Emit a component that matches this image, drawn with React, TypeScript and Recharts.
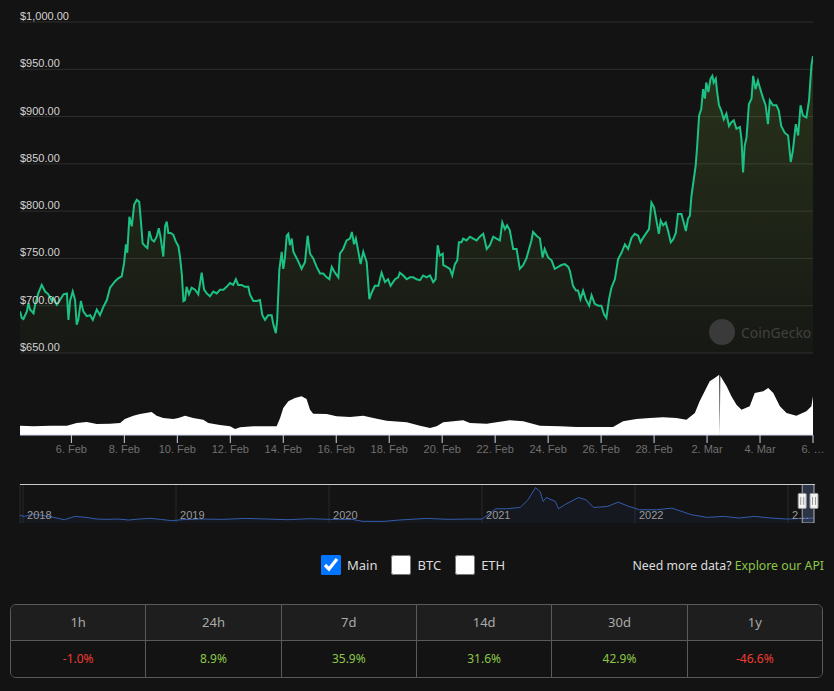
import React from "react";
import {
  ComposedChart,
  AreaChart,
  Area,
  XAxis,
  YAxis,
  CartesianGrid,
  ReferenceArea,
  ReferenceDot,
} from "recharts";

// price, USD — x is day of the month counted from 1 Feb (29 = 1 Mar)
const priceDays = [
  4.06, 4.13, 4.19, 4.32, 4.38, 4.44, 4.57, 4.63, 4.75, 4.88,
  5.01, 5.13, 5.26, 5.32, 5.45, 5.57, 5.7, 5.83, 5.89, 5.95,
  6.05, 6.14, 6.2, 6.26, 6.36, 6.45, 6.58, 6.71, 6.81, 6.96,
  7.08, 7.21, 7.34, 7.46, 7.65, 7.77, 7.9, 7.99, 8.06, 8.11,
  8.19, 8.28, 8.37, 8.47, 8.56, 8.62, 8.69, 8.78, 8.87, 8.94,
  9.03, 9.12, 9.22, 9.3, 9.37, 9.47, 9.54, 9.6, 9.66, 9.75,
  9.85, 9.94, 10.04, 10.1, 10.17, 10.23, 10.29, 10.35, 10.44, 10.54,
  10.67, 10.79, 10.92, 11.01, 11.11, 11.23, 11.36, 11.49, 11.61, 11.74,
  11.86, 11.99, 12.11, 12.21, 12.3, 12.43, 12.55, 12.68, 12.74, 12.87,
  13.0, 13.12, 13.21, 13.31, 13.43, 13.56, 13.62, 13.72, 13.77, 13.85,
  13.94, 14.0, 14.06, 14.13, 14.19, 14.25, 14.32, 14.38, 14.51, 14.63,
  14.69, 14.82, 14.92, 15.01, 15.13, 15.26, 15.39, 15.51, 15.64, 15.74,
  15.83, 15.95, 16.08, 16.14, 16.26, 16.39, 16.52, 16.59, 16.67, 16.74,
  16.83, 16.92, 17.02, 17.15, 17.25, 17.34, 17.46, 17.59, 17.71, 17.84,
  17.96, 18.05, 18.22, 18.34, 18.4, 18.53, 18.66, 18.78, 18.91, 19.03,
  19.16, 19.28, 19.41, 19.54, 19.66, 19.75, 19.83, 19.91, 20.02, 20.04,
  20.17, 20.29, 20.38, 20.48, 20.57, 20.63, 20.73, 20.79, 20.92, 21.05,
  21.17, 21.3, 21.42, 21.55, 21.61, 21.68, 21.8, 21.93, 22.05, 22.18,
  22.27, 22.37, 22.45, 22.55, 22.68, 22.81, 22.93, 23.06, 23.18, 23.28,
  23.37, 23.43, 23.56, 23.69, 23.79, 23.87, 24.0, 24.13, 24.25, 24.38,
  24.5, 24.63, 24.76, 24.82,
  24.94, 25.05, 25.13, 25.22, 25.32, 25.42, 25.55, 25.64, 25.76, 25.89,
  26.01, 26.11, 26.2, 26.3, 26.39, 26.52, 26.64, 26.77, 26.9, 27.02,
  27.15, 27.27, 27.4, 27.49, 27.59, 27.71, 27.81, 27.9, 28.0, 28.09,
  28.18, 28.25, 28.34, 28.44, 28.53, 28.63, 28.72, 28.82, 28.9, 29.03,
  29.12, 29.2, 29.28, 29.35, 29.41, 29.5, 29.57, 29.62, 29.7, 29.78,
  29.85, 29.92, 29.97, 30.05, 30.13, 30.2, 30.25, 30.33, 30.38, 30.45,
  30.54, 30.63, 30.73, 30.83, 30.92, 31.01, 31.11, 31.24, 31.3, 31.36,
  31.42, 31.49, 31.58, 31.68, 31.74, 31.83, 31.92, 32.01, 32.11, 32.21,
  32.3, 32.37, 32.49, 32.62, 32.71, 32.8, 32.93, 33.06, 33.16, 33.24,
  33.35, 33.44, 33.53, 33.62, 33.75, 33.85, 33.94, 34.0,
];
const prices = [
  694, 687, 686, 694, 703, 696, 692, 701, 713, 722,
  715, 712, 705, 708, 701, 706, 712, 713, 685, 705,
  715, 706, 680, 685, 705, 694, 689, 690, 685, 696,
  690, 699, 706, 719, 726, 729, 731, 745, 765, 756,
  794, 784, 807, 812, 810, 791, 766, 763, 761, 779,
  770, 768, 773, 782, 772, 752, 784, 789, 777, 777,
  775, 768, 763, 752, 733, 705, 706, 720, 712, 719,
  717, 712, 735, 717, 713, 710, 715, 713, 717, 717,
  720, 724, 722, 728, 722, 722, 720, 720, 712, 705,
  705, 706, 690, 685, 690, 690, 681, 671, 685, 738,
  757, 739, 750, 774, 776, 764, 771, 757, 750, 743,
  739, 746, 774, 755, 750, 741, 734, 734, 730, 728,
  741, 735, 730, 755, 760, 769, 771, 778, 765, 771,
  758, 744, 757, 746, 707, 714, 721, 721, 735, 725,
  728, 721, 728, 730, 735, 732, 728, 730, 730, 728,
  727, 732, 730, 732, 725, 728, 764, 753, 755, 743,
  741, 739, 732, 744, 748, 767, 767, 771, 769, 773,
  771, 769, 773, 776, 769, 760, 764, 773, 771, 769,
  788, 781, 785, 780, 760, 760, 739, 743, 750, 760,
  769, 778, 774, 771, 751, 760, 751, 748, 739, 741,
  743, 744, 741, 737,
  721, 716, 716, 707, 716, 707, 700, 711, 702, 700,
  700, 691, 687, 707, 719, 728, 749, 756, 765, 760,
  772, 776, 774, 767, 772, 777, 781, 809, 804, 790,
  776, 790, 785, 788, 779, 767, 770, 777, 797, 797,
  788, 779, 792, 795, 816, 834, 848, 866, 901, 908,
  929, 919, 936, 926, 940, 943, 936, 940, 926, 912,
  906, 897, 903, 890, 894, 896, 887, 889, 876, 841,
  869, 878, 913, 919, 943, 929, 938, 929, 920, 912,
  892, 917, 912, 912, 906, 890, 883, 880, 852, 864,
  892, 880, 912, 901, 899, 917, 954, 964,
];

// trading volume, $M
const volumeDays = [
  4.06, 4.57, 5.2, 5.83, 6.2, 6.58, 6.96, 7.46, 7.84, 8.02,
  8.34, 8.59, 9.03, 9.22, 9.47, 9.85, 10.04, 10.29, 10.6, 10.98,
  11.17, 11.61, 11.99, 12.18, 12.37, 12.87, 13.37, 13.75, 13.88, 14.0,
  14.19, 14.44, 14.69, 14.88, 15.01, 15.13, 15.64, 16.01, 16.52, 17.02,
  17.4, 17.9, 18.66, 19.16, 19.54, 19.79, 20.04, 20.42, 20.79, 21.05,
  21.68, 22.05, 22.55, 23.06, 23.69, 24.44, 25.07, 25.7, 26.45, 26.83,
  27.33, 27.84, 28.34, 28.84, 29.22, 29.54, 29.72, 29.91, 30.1, 30.29,
  30.46, 30.48, 30.5, 30.74, 30.92, 31.11, 31.3, 31.61, 31.8, 32.12,
  32.31, 32.5, 32.75, 33.0, 33.37, 33.75, 33.94, 34.0,
];
const volumes = [
  93, 87, 93, 93, 120, 130, 110, 113, 120, 160,
  193, 210, 230, 193, 170, 160, 170, 193, 170, 153,
  120, 100, 87, 60, 77, 87, 87, 87, 170, 270,
  337, 370, 387, 360, 253, 213, 210, 187, 180, 193,
  170, 143, 127, 93, 70, 87, 127, 137, 147, 120,
  113, 127, 147, 137, 93, 87, 80, 80, 80, 137,
  160, 170, 177, 170, 153, 220, 337, 437, 537, 570,
  603, 0, 593, 487, 387, 303, 253, 287, 420, 437,
  470, 420, 287, 220, 193, 237, 287, 387,
];

const priceTicks = [650, 700, 750, 800, 850, 900, 950, 1000];
const dateTicks = [6, 8, 10, 12, 14, 16, 18, 20, 22, 24, 26, 28, 30, 32, 34];

// navigator: full history, x in years
const navYears = [
  2017.98, 2018.01, 2018.06, 2018.13, 2018.2, 2018.27, 2018.34, 2018.41, 2018.48, 2018.55,
  2018.62, 2018.69, 2018.76, 2018.83, 2018.9, 2018.97, 2019.04, 2019.17, 2019.31, 2019.45,
  2019.59, 2019.73, 2019.87, 2020.01, 2020.15, 2020.22, 2020.36, 2020.46, 2020.64, 2020.78,
  2020.92, 2021.0, 2021.04, 2021.09, 2021.16, 2021.25, 2021.3, 2021.35, 2021.38, 2021.4,
  2021.42, 2021.48, 2021.5, 2021.54, 2021.63, 2021.68, 2021.73, 2021.82, 2021.89, 2021.96,
  2022.03, 2022.14, 2022.24, 2022.37, 2022.47, 2022.58, 2022.68, 2022.78, 2022.89, 2022.99,
  2023.17,
];
const navPrices = [
  1380, 1200, 1620, 1380, 1020, 600, 1200, 1020, 720, 660,
  720, 540, 720, 840, 660, 420, 600, 720, 660, 840,
  720, 600, 780, 660, 660, 300, 300, 540, 840, 660,
  720, 720, 1500, 2580, 2580, 2820, 4200, 6420, 5700, 3900,
  4620, 3900, 2580, 3300, 4620, 4200, 2820, 3000, 3780, 3000,
  2400, 2400, 2700, 1500, 1020, 1200, 900, 1200, 900, 720,
  900,
];
const yearTicks = [2018, 2019, 2020, 2021, 2022, 2023];
const selection = [2023.093, 2023.17];

const toggles = ["Main", "BTC", "ETH"];
const periods = ["1h", "24h", "7d", "14d", "30d", "1y"];
const changes = [-1.0, 8.9, 35.9, 31.6, 42.9, -46.6];

const BG = "#131313";
const FONT = '"Liberation Sans", Arial, sans-serif';
const UI_FONT = '"Noto Sans", "Open Sans", sans-serif';

const rows = [
  ...priceDays.map((t, i) => ({ t, price: prices[i] })),
  ...volumeDays.map((t, i) => ({ t, vol: volumes[i] })),
].sort((a, b) => a.t - b.t);

const navRows = navYears.map((t, i) => ({ t, v: navPrices[i] }));

function fmtDate(d: number) {
  if (d <= 28) return `${d}. Feb`;
  if (d >= 34) return `${d - 28}. …`;
  return `${d - 28}. Mar`;
}

const PriceTick = ({ y, payload }: any) => (
  <text x={20} y={y - 2} fill="#d4d4d4" fontSize={11} fontFamily={FONT}>
    {"$" + payload.value.toLocaleString("en-US", { minimumFractionDigits: 2 })}
  </text>
);

// year labels sit inside the navigator, just right of the grid line
const YearTick = ({ x, payload }: any) => (
  <text x={x + 4} y={35} fill="#9a9a9a" fontSize={11} fontFamily={FONT}>
    {payload.value === 2023 ? "2…" : payload.value}
  </text>
);

const Handle = ({ cx, cy }: any) => (
  <g>
    <rect x={cx - 4} y={cy - 7.5} width={8} height={15} rx={1} fill="#f2f2f2" stroke="#999" />
    <line x1={cx - 1.5} x2={cx - 1.5} y1={cy - 4} y2={cy + 4} stroke="#999" />
    <line x1={cx + 1.5} x2={cx + 1.5} y1={cy - 4} y2={cy + 4} stroke="#999" />
  </g>
);

export default function App() {
  return (
    <div
      style={{
        position: "absolute",
        left: 0,
        top: 0,
        width: 834,
        height: 691,
        background: BG,
        overflow: "hidden",
      }}
    >
      <div style={{ position: "absolute", left: 0, top: 0 }}>
        <ComposedChart
          width={834}
          height={470}
          data={rows}
          margin={{ top: 22, right: 21, bottom: 0, left: 20 }}
        >
          <defs>
            <linearGradient id="priceFill" x1="0" y1="0" x2="0" y2="1">
              <stop offset="0%" stopColor="#8dc63f" stopOpacity={0.18} />
              <stop offset="100%" stopColor="#8dc63f" stopOpacity={0.03} />
            </linearGradient>
          </defs>
          <CartesianGrid yAxisId="price" vertical={false} stroke="#2e2e2e" />
          <XAxis
            dataKey="t"
            type="number"
            domain={[4.06, 34]}
            ticks={dateTicks}
            interval={0}
            tickFormatter={fmtDate}
            height={35}
            tickSize={8}
            stroke="#ccd6eb"
            tick={{ fill: "#707070", fontSize: 11, fontFamily: FONT }}
            allowDataOverflow
          />
          <YAxis
            yAxisId="price"
            domain={[563.3, 1000]}
            ticks={priceTicks}
            interval={0}
            mirror
            width={60}
            axisLine={false}
            tickLine={false}
            tick={<PriceTick />}
            allowDataOverflow
          />
          <YAxis yAxisId="vol" orientation="right" domain={[0, 4130]} hide />
          <Area
            yAxisId="vol"
            dataKey="vol"
            type="linear"
            stroke="none"
            fill="#ffffff"
            fillOpacity={1}
            connectNulls
            isAnimationActive={false}
            dot={false}
            activeDot={false}
          />
          <Area
            yAxisId="price"
            dataKey="price"
            type="linear"
            stroke="#1cc184"
            strokeWidth={2}
            fill="url(#priceFill)"
            fillOpacity={1}
            baseValue={650}
            connectNulls
            isAnimationActive={false}
            dot={false}
            activeDot={false}
          />
        </ComposedChart>
      </div>

      {/* watermark */}
      <div
        style={{
          position: "absolute",
          left: 709,
          top: 319,
          display: "flex",
          alignItems: "center",
          pointerEvents: "none",
        }}
      >
        <div
          style={{
            width: 26,
            height: 26,
            borderRadius: 13,
            background: "#3a3a3a",
            marginRight: 6,
          }}
        />
        <span style={{ fontFamily: UI_FONT, fontSize: 14, color: "#414141" }}>CoinGecko</span>
      </div>

      {/* navigator */}
      <div style={{ position: "absolute", left: 0, top: 484 }}>
        <AreaChart
          width={834}
          height={39}
          data={navRows}
          margin={{ top: 0, right: 20, bottom: 0, left: 20 }}
        >
          <CartesianGrid horizontal={false} stroke="#2a2a2a" />
          <XAxis
            dataKey="t"
            type="number"
            domain={[2017.98, 2023.17]}
            ticks={yearTicks}
            interval={0}
            mirror
            height={20}
            axisLine={false}
            tickLine={false}
            tick={<YearTick />}
          />
          <YAxis domain={[0, 7070]} hide />
          <Area
            dataKey="v"
            type="linear"
            stroke="#335cad"
            strokeWidth={1}
            fill="#335cad"
            fillOpacity={0.08}
            isAnimationActive={false}
            dot={false}
            activeDot={false}
          />
          <ReferenceArea
            x1={selection[0]}
            x2={selection[1]}
            fill="#6685c2"
            fillOpacity={0.3}
            stroke="#aaaaaa"
          />
          <ReferenceDot x={selection[0]} y={4000} shape={<Handle />} />
          <ReferenceDot x={selection[1]} y={4000} shape={<Handle />} />
        </AreaChart>
      </div>
      <div
        style={{
          position: "absolute",
          left: 20,
          top: 484,
          width: 795,
          height: 1,
          background: "#c8c8c8",
        }}
      />

      {/* series toggles */}
      <div
        style={{
          position: "absolute",
          left: 321,
          top: 555,
          display: "flex",
          alignItems: "center",
          fontFamily: UI_FONT,
          fontSize: 13,
          color: "#dcdcdc",
        }}
      >
        {toggles.map((name, i) => (
          <label
            key={name}
            style={{ display: "flex", alignItems: "center", marginRight: 14 }}
          >
            <input
              type="checkbox"
              checked={i === 0}
              readOnly
              style={{ width: 20, height: 20, margin: "0 6px 0 0" }}
            />
            {name}
          </label>
        ))}
      </div>
      <div
        style={{
          position: "absolute",
          right: 10,
          top: 557,
          fontFamily: UI_FONT,
          fontSize: 12.3,
          color: "#dcdcdc",
        }}
      >
        Need more data? <span style={{ color: "#8dc647" }}>Explore our API</span>
      </div>

      {/* change table */}
      <div
        style={{
          position: "absolute",
          left: 10,
          top: 604,
          width: 813,
          boxSizing: "border-box",
          border: "1.5px solid #5a5a5a",
          borderRadius: 6,
          overflow: "hidden",
          fontFamily: UI_FONT,
        }}
      >
        <div style={{ display: "flex", background: "#1e1e1e", borderBottom: "1.5px solid #5a5a5a" }}>
          {periods.map((p, i) => (
            <div
              key={p}
              style={{
                flex: 1,
                height: 35,
                lineHeight: "35px",
                textAlign: "center",
                fontSize: 13,
                color: "#aaaaaa",
                borderLeft: i ? "1.5px solid #5a5a5a" : "none",
              }}
            >
              {p}
            </div>
          ))}
        </div>
        <div style={{ display: "flex", background: BG }}>
          {changes.map((c, i) => (
            <div
              key={periods[i]}
              style={{
                flex: 1,
                height: 36,
                lineHeight: "36px",
                textAlign: "center",
                fontSize: 12,
                color: c < 0 ? "#ef3b32" : "#8dc647",
                borderLeft: i ? "1.5px solid #5a5a5a" : "none",
              }}
            >
              {c.toFixed(1)}%
            </div>
          ))}
        </div>
      </div>
    </div>
  );
}
